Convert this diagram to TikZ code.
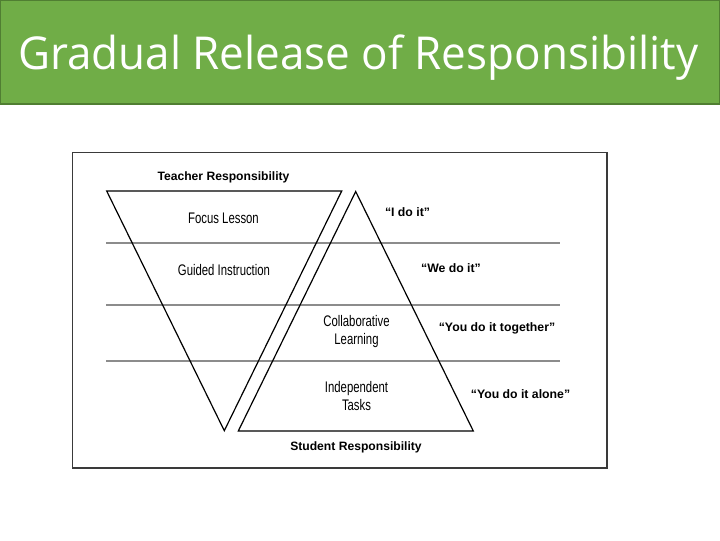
\documentclass[tikz,border=0pt]{standalone}
\usepackage{fontspec}
\setmainfont{Liberation Sans}
\newfontfamily\titlefont[FakeStretch=0.97]{Open Sans}
\newfontfamily\narrowfont[FakeStretch=0.74]{Liberation Sans}
\usepackage{tikz}
\definecolor{barc}{HTML}{70AD47}
\definecolor{barline}{HTML}{507E32}
\definecolor{framec}{HTML}{3A3A3A}
\definecolor{rulec}{HTML}{8C8C8C}
\tikzset{
  tri/.style={draw=black,line width=0.9pt,line join=miter},
  stage/.style={font=\narrowfont\fontsize{11.5}{13.5}\selectfont,align=center,inner sep=0pt,text=black},
  quote/.style={font=\bfseries\fontsize{9.2}{11}\selectfont,inner sep=0pt},
  side/.style={font=\bfseries\fontsize{9.1}{11}\selectfont,inner sep=0pt}
}

\begin{document}
\begin{tikzpicture}[x=0.75pt,y=-0.75pt]
\useasboundingbox (0,0) rectangle (720,540);
\fill[white] (0,0) rectangle (720,540);
% title bar
\draw[barline,fill=barc,line width=1pt] (0.5,0.5) rectangle (719.5,104);
\node[anchor=base west,text=white,inner sep=0pt,font=\titlefont\fontsize{34}{38}\selectfont] (title) at (18,69) {Gradual Release of Responsibility};
% frame and rules
\draw[framec,line width=1.1pt] (72.5,152.5) rectangle (607,468);
\foreach \y in {243,305,361} \draw[rulec,line width=0.9pt] (106,\y) -- (560,\y);
% the two triangles
\coordinate (TL) at (106.7,191); \coordinate (TR) at (341.7,191); \coordinate (TB) at (224.3,430.7);
\coordinate (SA) at (355.7,191.5); \coordinate (SL) at (238.3,431); \coordinate (SR) at (473.3,431);
\draw[tri] (TL) -- (TR) -- (TB) -- cycle;
\draw[tri] (SA) -- (SR) -- (SL) -- cycle;
% labels
\node[side] (teach) at (223.5,177) {Teacher Responsibility};
\node[side] (stud) at (356,447) {Student Responsibility};
\node[stage] (focus) at (223.5,218) {Focus Lesson};
\node[stage] (guided) at (224,270.5) {Guided Instruction};
\node[stage] (collab) at (356.5,331.5) {Collaborative\\Learning};
\node[stage] (indep) at (356.5,396.5) {Independent\\Tasks};
\node[quote] (qi) at (407.5,212) {“I do it”};
\node[quote] (qwe) at (451,268.5) {“We do it”};
\node[quote] (qtog) at (497,328.5) {“You do it together”};
\node[quote] (qalone) at (520.5,394) {“You do it alone”};
\end{tikzpicture}
\end{document}
